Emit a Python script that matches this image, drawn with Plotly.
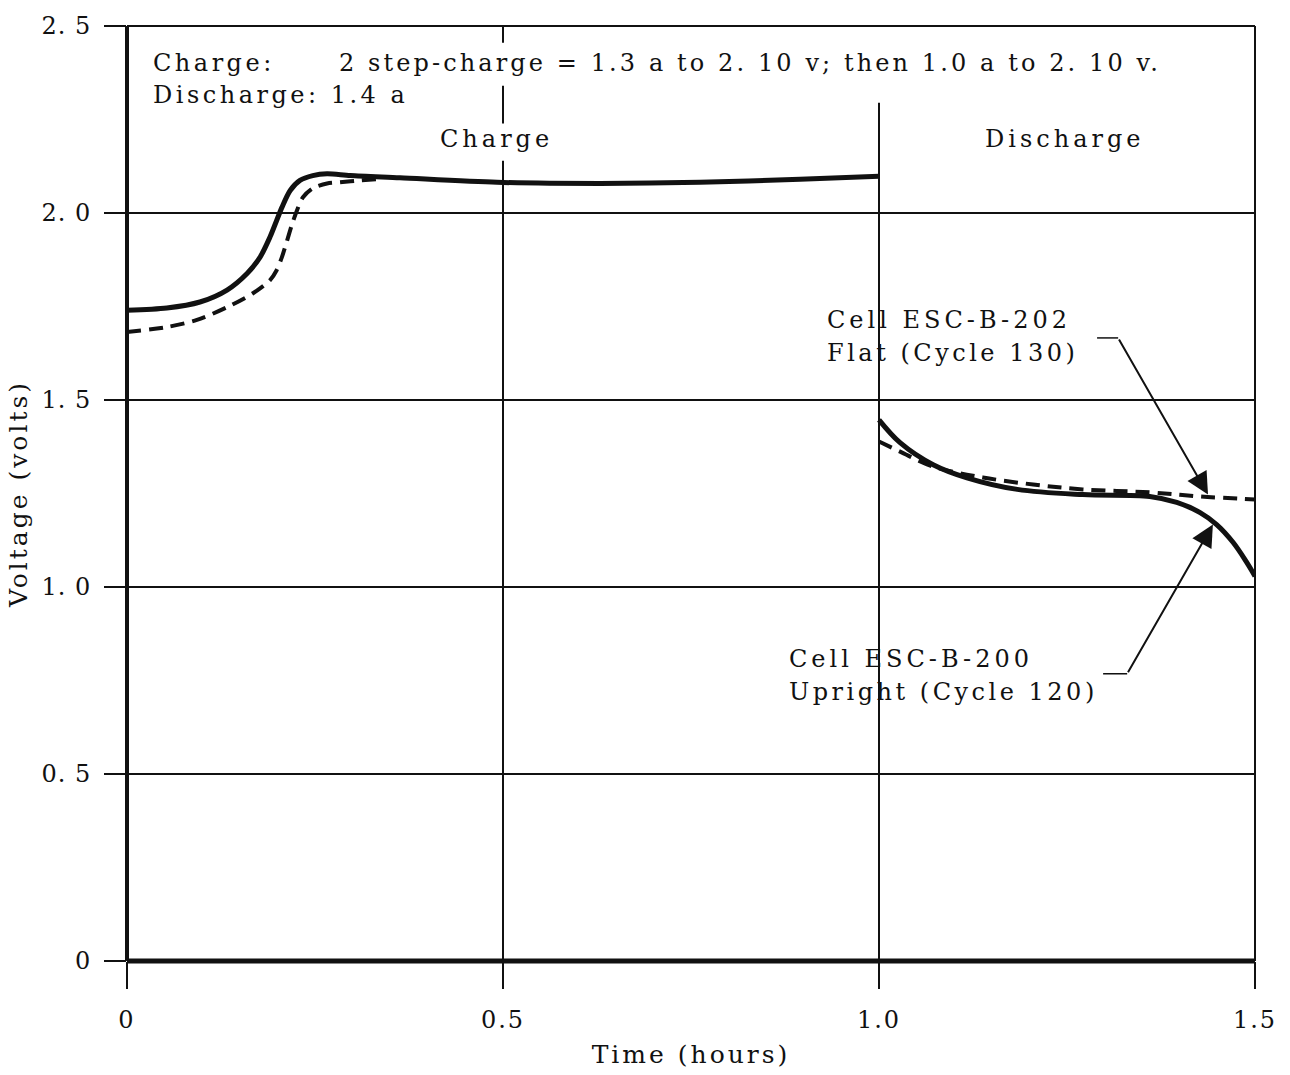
import plotly.graph_objects as go

# ---- data ----
charge_t_solid = [0, 0.053, 0.097, 0.133, 0.160, 0.177, 0.190, 0.199, 0.206, 0.217, 0.230, 0.247, 0.266, 0.297, 0.363, 0.492, 0.629, 0.762, 0.895, 1.0]
charge_v_solid = [1.740, 1.746, 1.762, 1.794, 1.839, 1.882, 1.935, 1.980, 2.015, 2.060, 2.087, 2.100, 2.105, 2.100, 2.094, 2.082, 2.079, 2.082, 2.090, 2.098]

charge_t_dash = [0, 0.053, 0.093, 0.133, 0.168, 0.190, 0.199, 0.206, 0.213, 0.219, 0.226, 0.234, 0.247, 0.266, 0.283, 0.310, 0.340]
charge_v_dash = [1.682, 1.695, 1.714, 1.748, 1.786, 1.820, 1.847, 1.882, 1.927, 1.967, 2.007, 2.042, 2.066, 2.079, 2.082, 2.087, 2.092]

dis_t_solid = [1.0, 1.028, 1.072, 1.117, 1.184, 1.271, 1.360, 1.396, 1.427, 1.449, 1.471, 1.489, 1.5]
dis_v_solid = [1.447, 1.386, 1.327, 1.292, 1.261, 1.247, 1.242, 1.226, 1.199, 1.167, 1.119, 1.066, 1.029]

dis_t_dash = [1.0, 1.028, 1.072, 1.138, 1.205, 1.271, 1.360, 1.427, 1.5]
dis_v_dash = [1.389, 1.362, 1.322, 1.293, 1.274, 1.261, 1.253, 1.242, 1.234]

x_ticks = [0, 0.5, 1.0, 1.5]
x_tick_labels = ["0", "0.5", "1.0", "1.5"]
y_ticks = [0, 0.5, 1.0, 1.5, 2.0, 2.5]
y_tick_labels = ["0", "0. 5", "1. 0", "1. 5", "2. 0", "2. 5"]

FONT = "DejaVu Serif"
BLACK = "#111111"


def sp(text, ls):
    return '<span style="letter-spacing:%spx">%s</span>' % (ls, text)


fig = go.Figure()

solid = dict(color=BLACK, width=5)
dashed = dict(color=BLACK, width=4, dash="14px,8px")

fig.add_trace(go.Scatter(x=charge_t_dash, y=charge_v_dash, mode="lines", line=dict(**dashed, shape="spline", smoothing=0.8), showlegend=False))
fig.add_trace(go.Scatter(x=charge_t_solid, y=charge_v_solid, mode="lines", line=dict(**solid, shape="spline", smoothing=0.8), showlegend=False))
fig.add_trace(go.Scatter(x=dis_t_dash, y=dis_v_dash, mode="lines", line=dict(**dashed, shape="spline"), showlegend=False))
fig.add_trace(go.Scatter(x=dis_t_solid, y=dis_v_solid, mode="lines", line=dict(**solid, shape="spline"), showlegend=False))

shapes = []
# plot borders (paper refs so they aren't clipped)
shapes.append(dict(type="line", xref="paper", yref="paper", x0=0, x1=1, y0=0, y1=0, line=dict(color=BLACK, width=5)))
shapes.append(dict(type="line", xref="paper", yref="paper", x0=0, x1=1, y0=1, y1=1, line=dict(color=BLACK, width=2)))
shapes.append(dict(type="line", xref="paper", yref="paper", x0=0, x1=0, y0=0, y1=1, line=dict(color=BLACK, width=4)))
shapes.append(dict(type="line", xref="paper", yref="paper", x0=1, x1=1, y0=0, y1=1, line=dict(color=BLACK, width=2)))
# vertical divider lines (broken around text)
for y0, y1 in [(0, 2.140), (2.239, 2.340), (2.455, 2.5)]:
    shapes.append(dict(type="line", xref="x", yref="y", x0=0.5, x1=0.5, y0=y0, y1=y1, line=dict(color=BLACK, width=2)))
shapes.append(dict(type="line", xref="x", yref="y", x0=1.0, x1=1.0, y0=0, y1=2.295, line=dict(color=BLACK, width=2)))
# horizontal parts of leader lines
shapes.append(dict(type="line", xref="x", yref="y", x0=1.290, x1=1.318, y0=1.666, y1=1.666, line=dict(color=BLACK, width=1.5)))
shapes.append(dict(type="line", xref="x", yref="y", x0=1.298, x1=1.330, y0=0.768, y1=0.768, line=dict(color=BLACK, width=1.5)))

annotations = []


def add_text(text, x, y, anchor="left", size=24, ls=3.5):
    # x, y in pixel coords of the full figure converted to paper coords
    px = (x - 127) / (1255 - 127)
    py = (963 - y) / (963 - 25)
    annotations.append(dict(text=sp(text, ls), x=px, y=py, xref="paper", yref="paper",
                            xanchor=anchor, yanchor="middle", showarrow=False,
                            font=dict(family=FONT, size=size, color=BLACK)))


add_text("Charge:", 151, 62)
add_text("2 step-charge = 1.3 a to 2. 10 v; then 1.0 a to 2. 10 v.", 337, 62, ls=3.1)
add_text("Discharge: 1.4 a", 151, 94)
add_text("Charge", 496, 138, anchor="center", ls=4)
add_text("Discharge", 1064, 138, anchor="center", ls=4)
add_text("Cell ESC-B-202", 825, 320, ls=4)
add_text("Flat (Cycle 130)", 825, 353)
add_text("Cell ESC-B-200", 787, 660, ls=4)
add_text("Upright (Cycle 120)", 787, 693)

# arrows
annotations.append(dict(x=1.4375, y=1.247, ax=1.318, ay=1.666, axref="x", ayref="y", xref="x", yref="y",
                        text="", showarrow=True, arrowhead=2, arrowsize=2.2, arrowwidth=2, arrowcolor=BLACK, standoff=0))
annotations.append(dict(x=1.444, y=1.167, ax=1.330, ay=0.768, axref="x", ayref="y", xref="x", yref="y",
                        text="", showarrow=True, arrowhead=2, arrowsize=2.2, arrowwidth=2, arrowcolor=BLACK, standoff=0))

fig.update_layout(
    width=1290, height=1075,
    margin=dict(l=127, r=35, t=25, b=112),
    paper_bgcolor="white", plot_bgcolor="white",
    font=dict(family=FONT, size=24, color=BLACK),
    shapes=shapes, annotations=annotations,
    showlegend=False,
)
fig.update_xaxes(
    range=[0, 1.5], showgrid=False, zeroline=False, showline=False,
    tickvals=x_ticks, ticktext=[sp(t, 2) for t in x_tick_labels],
    ticks="outside", ticklen=27, tickwidth=2, tickcolor=BLACK,
    tickfont=dict(family=FONT, size=24, color=BLACK),
    ticklabelstandoff=10,
    title=dict(text=sp("Time (hours)", 3), font=dict(family=FONT, size=25, color=BLACK), standoff=12),
)
fig.update_yaxes(
    range=[0, 2.5], showgrid=True, gridcolor=BLACK, gridwidth=2, zeroline=False, showline=False,
    tickvals=y_ticks, ticktext=[sp(t, 1) for t in y_tick_labels],
    ticks="outside", ticklen=22, tickwidth=2, tickcolor=BLACK,
    tickfont=dict(family=FONT, size=24, color=BLACK),
    ticklabelstandoff=8,
    title=dict(text=sp("Voltage (volts)", 3), font=dict(family=FONT, size=25, color=BLACK), standoff=6),
)

fig.write_html("out.html")
